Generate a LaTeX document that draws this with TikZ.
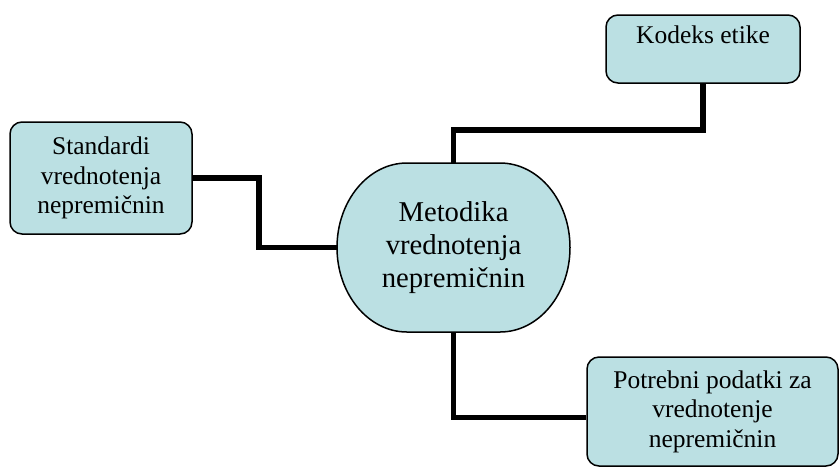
\documentclass[tikz,border=0pt]{standalone}
\usepackage{fontspec}
\setmainfont{Liberation Serif}
\usepackage{tikz}
\usetikzlibrary{arrows}

\definecolor{boxfill}{RGB}{187,224,227}

\begin{document}
\begin{tikzpicture}[x=1pt,y=-1pt,-,
  box node/.style={rectangle,rounded corners=12pt,draw,line width=1.5pt,fill=boxfill,
    align=center,inner sep=0pt,font=\fontsize{25.5}{29.5}\selectfont},
  mid node/.style={rectangle,align=center,inner sep=0pt,
    minimum width=233pt,minimum height=169pt,font=\fontsize{28.7}{33}\selectfont},
  link/.style={line width=5.5pt}]

    \useasboundingbox (0,0) rectangle (840,467);

    % outline of the middle shape, ends are half ellipses
    \draw[line width=1.5pt,fill=boxfill] (407,163) -- (500,163)
      arc[start angle=-90,end angle=90,x radius=70,y radius=84.5] -- (407,332)
      arc[start angle=90,end angle=270,x radius=70,y radius=84.5] -- cycle;

    \node[mid node] (mid) at (453.5,247.5) {Metodika\\vrednotenja\\nepremičnin};

    \node[box node,minimum width=182pt,minimum height=112pt] (std) at (101,178)
      {Standardi\\vrednotenja\\nepremičnin};

    \node[box node,minimum width=194pt,minimum height=68pt] (kod) at (703,49)
      {Kodeks etike\\~};

    \node[box node,minimum width=251pt,minimum height=109pt] (pot) at (712.5,411.5)
      {Potrebni podatki za\\vrednotenje\\nepremičnin};

    \draw[link] (std.east) -- ++(66,0) |- (mid.west);
    \draw[link] (mid.north) -- ++(0,-33) -| (kod.south);
    \draw[link] (mid.south) |- ([yshift=-6pt]pot.west);
\end{tikzpicture}
\end{document}
